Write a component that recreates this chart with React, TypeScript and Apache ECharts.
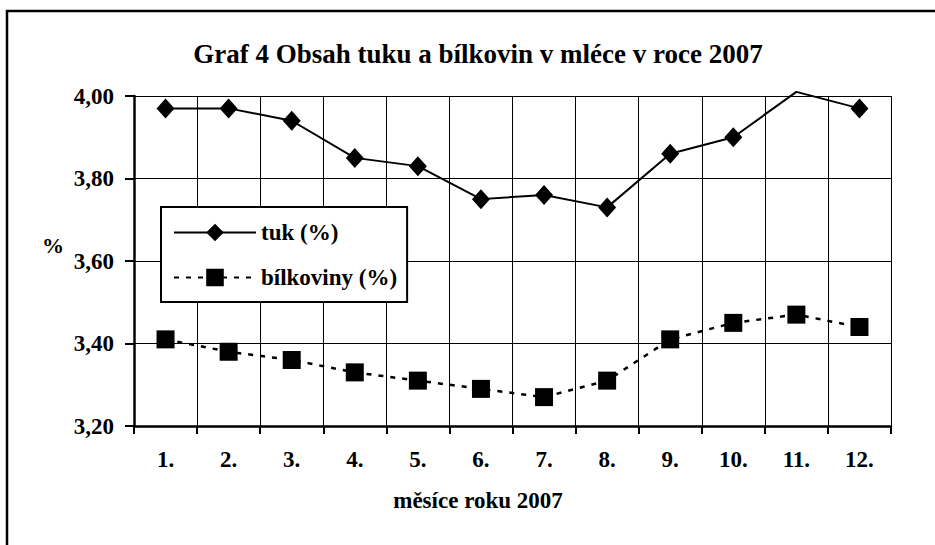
import React, { useEffect, useRef } from "react";
import * as echarts from "echarts";

const months = ["1.", "2.", "3.", "4.", "5.", "6.", "7.", "8.", "9.", "10.", "11.", "12."];
const tuk = [3.97, 3.97, 3.94, 3.85, 3.83, 3.75, 3.76, 3.73, 3.86, 3.9, 4.01, 3.97];
const bilkoviny = [3.41, 3.38, 3.36, 3.33, 3.31, 3.29, 3.27, 3.31, 3.41, 3.45, 3.47, 3.44];
const yMin = 3.2;
const yMax = 4.0;
const yStep = 0.2;

const FONT = "'Liberation Serif', 'Times New Roman', serif";

export default function App() {
  const ref = useRef<HTMLDivElement>(null);
  useEffect(() => {
    if (!ref.current) return;
    const chart = echarts.init(ref.current, undefined, { renderer: "svg" });
    const tukData = tuk.map((v) =>
      v > yMax ? { value: v, symbol: "none" } : v
    );
    chart.setOption({
      animation: false,
      backgroundColor: "#fff",
      title: {
        text: "Graf 4 Obsah tuku a bílkovin v mléce v roce 2007",
        left: 478,
        top: 40,
        padding: 0,
        textAlign: "center",
        textStyle: { fontFamily: FONT, fontWeight: "bold", fontSize: 27, color: "#000" },
      },
      graphic: [
        {
          type: "rect",
          z: -10,
          silent: true,
          shape: { x: 7, y: 11, width: 1000, height: 1000 },
          style: { fill: "none", stroke: "#000", lineWidth: 2.5 },
        },
        {
          type: "text",
          x: 53,
          y: 245,
          style: {
            text: "%",
            fontFamily: FONT,
            fontWeight: "bold",
            fontSize: 22,
            fill: "#000",
            textAlign: "center",
            textVerticalAlign: "middle",
          },
        },
        {
          type: "text",
          x: 478,
          y: 500,
          style: {
            text: "měsíce roku 2007",
            fontFamily: FONT,
            fontWeight: "bold",
            fontSize: 23,
            fill: "#000",
            textAlign: "center",
            textVerticalAlign: "middle",
          },
        },
      ],
      legend: {
        orient: "vertical",
        left: 161,
        top: 207,
        padding: [14, 10, 13, 12],
        itemWidth: 82,
        itemHeight: 22,
        itemGap: 22,
        backgroundColor: "#fff",
        borderColor: "#000",
        borderWidth: 2,
        textStyle: { fontFamily: FONT, fontWeight: "bold", fontSize: 23, color: "#000", lineHeight: 22 },
        data: ["tuk (%)", "bílkoviny (%)"],
      },
      grid: { left: 134, right: 44, top: 96, bottom: 119 },
      xAxis: {
        type: "category",
        data: months,
        boundaryGap: true,
        axisLine: { lineStyle: { color: "#000", width: 2.5 } },
        axisTick: { show: true, length: 8, lineStyle: { color: "#000", width: 2 } },
        axisLabel: { margin: 22, fontFamily: FONT, fontWeight: "bold", fontSize: 23, color: "#000" },
        splitLine: { show: true, lineStyle: { color: "#000", width: 1 } },
      },
      yAxis: {
        type: "value",
        min: yMin,
        max: yMax,
        interval: yStep,
        axisLine: { show: true, lineStyle: { color: "#000", width: 2.5 } },
        axisTick: { show: true, length: 9, lineStyle: { color: "#000", width: 2 } },
        axisLabel: {
          margin: 20,
          fontFamily: FONT,
          fontWeight: "bold",
          fontSize: 23,
          color: "#000",
          formatter: (v: number) => v.toFixed(2).replace(".", ","),
        },
        splitLine: { show: true, lineStyle: { color: "#000", width: 1 } },
      },
      series: [
        {
          name: "tuk (%)",
          type: "line",
          data: tukData,
          clip: false,
          symbol: "diamond",
          symbolSize: [18, 20],
          itemStyle: { color: "#000" },
          lineStyle: { color: "#000", width: 2 },
          z: 3,
        },
        {
          name: "bílkoviny (%)",
          type: "line",
          data: bilkoviny,
          clip: false,
          symbol: "rect",
          symbolSize: 18,
          itemStyle: { color: "#000" },
          lineStyle: { color: "#000", width: 2.5, type: [5, 7] },
          z: 3,
        },
      ],
    });
    return () => chart.dispose();
  }, []);
  return (
    <div
      ref={ref}
      style={{ position: "absolute", left: 0, top: 0, width: 935, height: 545 }}
    />
  );
}
